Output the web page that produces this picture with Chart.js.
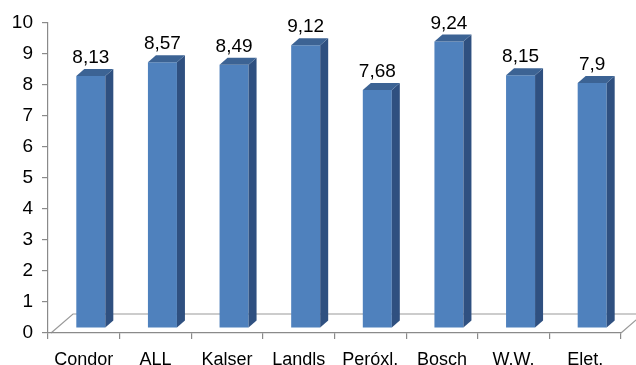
<!DOCTYPE html>
<html>
<head>
<meta charset="utf-8">
<script src="https://cdn.jsdelivr.net/npm/chart.js@4/dist/chart.umd.min.js"></script>
<style>
  html, body { margin: 0; padding: 0; background: #fff; }
  #wrap { width: 636px; height: 365px; position: relative; }
</style>
</head>
<body>
<div id="wrap"><canvas id="c" width="636" height="365"></canvas></div>
<script>
const categories = ["Condor", "ALL", "Kalser", "Landls", "Peróxl.", "Bosch", "W.W.", "Elet."];
const values = [8.13, 8.57, 8.49, 9.12, 7.68, 9.24, 8.15, 7.9];
const valueLabels = ["8,13", "8,57", "8,49", "9,12", "7,68", "9,24", "8,15", "7,9"];
const yTicks = [0, 1, 2, 3, 4, 5, 6, 7, 8, 9, 10];

const FONT = "'Liberation Sans', Arial, sans-serif";
const SHIFT_X = 7, SHIFT_Y = -5;   // bar row sits inside the 3D floor
const DEPTH_X = 8, DEPTH_Y = -7;   // bar depth
const FLOOR_X = 22, FLOOR_Y = -19; // floor depth

const bar3d = {
  id: 'bar3d',
  beforeDraw(chart) {
    const { ctx, chartArea: a } = chart;
    ctx.save();
    ctx.strokeStyle = '#9a9a9a';
    ctx.lineWidth = 1.2;
    ctx.beginPath();
    ctx.moveTo(a.left + 3, a.bottom);
    ctx.lineTo(a.left + 3 + FLOOR_X, a.bottom + FLOOR_Y);
    ctx.lineTo(a.right + FLOOR_X, a.bottom + FLOOR_Y);
    ctx.moveTo(a.right, a.bottom);
    ctx.lineTo(a.right + FLOOR_X, a.bottom + FLOOR_Y);
    ctx.stroke();
    ctx.restore();
  },
  beforeDatasetsDraw(chart) {
    chart.ctx.save();
    chart.ctx.translate(SHIFT_X, SHIFT_Y);
  },
  afterDatasetsDraw(chart) {
    const ctx = chart.ctx;
    const meta = chart.getDatasetMeta(0);
    meta.data.forEach((el, i) => {
      const { x, y, base, width } = el.getProps(['x', 'y', 'base', 'width'], true);
      const l = x - width / 2, r = x + width / 2;
      // side face
      ctx.fillStyle = '#2f5080';
      ctx.beginPath();
      ctx.moveTo(r, y);
      ctx.lineTo(r + DEPTH_X, y + DEPTH_Y);
      ctx.lineTo(r + DEPTH_X, base + DEPTH_Y);
      ctx.lineTo(r, base);
      ctx.closePath();
      ctx.fill();
      // top face
      ctx.fillStyle = '#3c6394';
      ctx.beginPath();
      ctx.moveTo(l, y);
      ctx.lineTo(l + DEPTH_X, y + DEPTH_Y);
      ctx.lineTo(r + DEPTH_X, y + DEPTH_Y);
      ctx.lineTo(r, y);
      ctx.closePath();
      ctx.fill();
      // value label
      ctx.fillStyle = '#000';
      ctx.font = '19px ' + FONT;
      ctx.textAlign = 'center';
      ctx.textBaseline = 'alphabetic';
      ctx.fillText(valueLabels[i], x, y + DEPTH_Y - 6);
    });
    ctx.restore();
  }
};

new Chart(document.getElementById('c'), {
  type: 'bar',
  data: {
    labels: categories,
    datasets: [{
      data: values,
      backgroundColor: '#4f81bd',
      borderWidth: 0,
      categoryPercentage: 1,
      barPercentage: 0.405,
      clip: false
    }]
  },
  options: {
    responsive: false,
    animation: false,
    events: [],
    layout: { padding: { top: 23, right: 15, left: 0, bottom: 0 } },
    plugins: { legend: { display: false }, tooltip: { enabled: false } },
    scales: {
      x: {
        afterFit(s) { s.height = 32; },
        grid: { drawOnChartArea: false, offset: true, tickLength: 6, color: '#8a8a8a', lineWidth: 1.2 },
        border: { color: '#8a8a8a', width: 1.2 },
        ticks: { color: '#000', font: { family: FONT, size: 18 }, padding: 10, maxRotation: 0, autoSkip: false }
      },
      y: {
        min: 0, max: 10,
        afterFit(s) { s.width = 48; },
        afterBuildTicks(s) { s.ticks = yTicks.map(v => ({ value: v })); },
        grid: { drawOnChartArea: false, tickLength: 6, color: '#8a8a8a', lineWidth: 1.2 },
        border: { color: '#8a8a8a', width: 1.2 },
        ticks: { color: '#000', font: { family: FONT, size: 19 }, padding: 9 }
      }
    }
  },
  plugins: [bar3d]
});
</script>
</body>
</html>
